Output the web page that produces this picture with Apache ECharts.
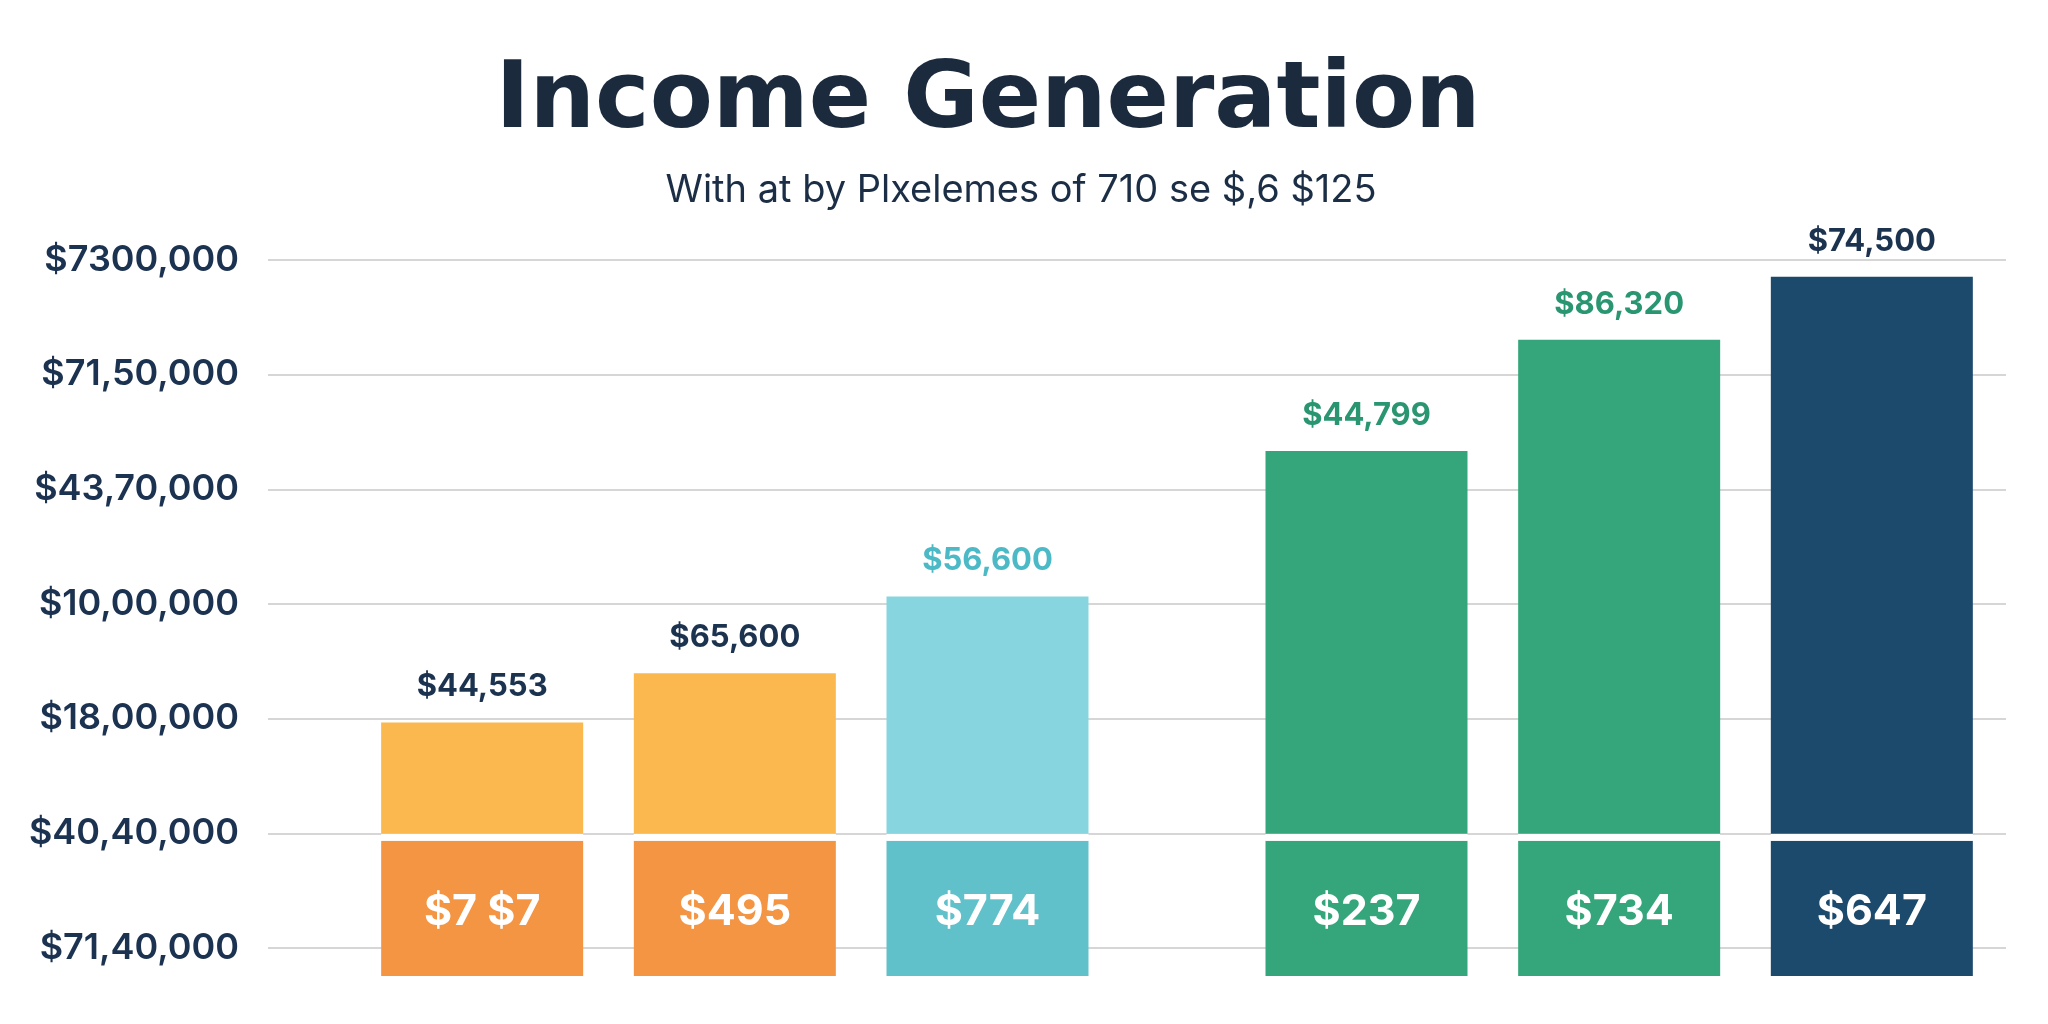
<!DOCTYPE html>
<html><head><meta charset="utf-8">
<script src="https://cdn.jsdelivr.net/npm/echarts@6/dist/echarts.min.js"></script>
<style>html,body{margin:0;padding:0;background:#fff}#c{width:2048px;height:1024px}</style>
</head><body><div id="c"></div>
<script>
// ---- data ----
const titleText = 'Income Generation';
const subtitleText = 'With at by Plxelemes of 710 se $,6 $125';
const tickLabels = ['$71,40,000', '$40,40,000', '$18,00,000', '$10,00,000', '$43,70,000', '$71,50,000', '$7300,000'];
const categories = ['Bar 1', 'Bar 2', 'Bar 3', 'Bar 4', 'Bar 5', 'Bar 6'];
const groups = ['A', 'A', 'A', 'B', 'B', 'B'];
const baseValues = [1.18, 1.18, 1.18, 1.18, 1.18, 1.18];
const topValues = [0.97, 1.40, 2.07, 3.34, 4.31, 4.86];
const topLabels = ['$44,553', '$65,600', '$56,600', '$44,799', '$86,320', '$74,500'];
const baseLabels = ['$7 $7', '$495', '$774', '$237', '$734', '$647'];

// ---- styles ----
const upperColors = ['#FAB84E', '#FAB84E', '#87D5DE', '#35A67C', '#35A67C', '#1C4A6D'];
const lowerColors = ['#F39542', '#F39542', '#61C1CB', '#35A67C', '#35A67C', '#1C4A6D'];
const topLabelColors = ['#1C3350', '#1C3350', '#4CB9C6', '#2A9571', '#2A9571', '#1C3350'];
const FONT = 'Inter';
const GAP = 0.061;

// slot layout: one empty half-slot between bars, an extra one between groups
const slots = [];
const slotOf = [];
categories.forEach((c, i) => {
  if (i > 0) { slots.push(''); if (groups[i] !== groups[i - 1]) slots.push(''); }
  slotOf.push(slots.length);
  slots.push(c);
});
function toSlots(fn) {
  const arr = slots.map(() => '-');
  categories.forEach((c, i) => { arr[slotOf[i]] = fn(i); });
  return arr;
}

const chart = echarts.init(document.getElementById('c'));
chart.setOption({
  backgroundColor: '#ffffff',
  animation: false,
  title: [
    { text: titleText, left: 988, top: 57, textAlign: 'center', padding: 0,
      textStyle: { fontFamily: 'DejaVu Sans', fontSize: 92, fontWeight: 'bold', color: '#1B2A3D' } },
    { text: subtitleText, left: 1021, top: 172, textAlign: 'center', padding: 0,
      textStyle: { fontFamily: FONT, fontSize: 38, fontWeight: 'normal', color: '#1B2E45' } }
  ],
  grid: [
    { left: 268, right: 42, top: 260, bottom: 76 },
    { left: 419, right: 113, top: 231, bottom: 48 }
  ],
  xAxis: [
    { type: 'value', gridIndex: 0, show: false, min: 0, max: 1 },
    { type: 'category', gridIndex: 1, data: slots, show: false }
  ],
  yAxis: [
    { type: 'value', gridIndex: 0, min: 0, max: 6, interval: 1,
      axisLine: { show: false }, axisTick: { show: false },
      splitLine: { show: true, lineStyle: { color: '#D6D6D6', width: 2 } },
      axisLabel: { margin: 29, fontFamily: FONT, fontSize: 36, fontWeight: 600, color: '#1B3250',
        formatter: v => tickLabels[Math.round(v)] } },
    { type: 'value', gridIndex: 1, min: 0, max: 6.5, show: false, splitLine: { show: false } }
  ],
  series: [
    { type: 'bar', name: 'base', stack: 's', xAxisIndex: 1, yAxisIndex: 1, barWidth: 202, clip: false,
      data: toSlots(i => ({ value: baseValues[i], itemStyle: { color: lowerColors[i] },
        label: { show: true, position: 'inside', offset: [0, 4], formatter: baseLabels[i], color: '#ffffff',
          fontFamily: FONT, fontSize: 43, fontWeight: 'bold' } })) },
    { type: 'bar', name: 'gap', stack: 's', xAxisIndex: 1, yAxisIndex: 1, barWidth: 202, silent: true, clip: false,
      itemStyle: { color: '#ffffff' },
      data: toSlots(i => GAP) },
    { type: 'bar', name: 'top', stack: 's', xAxisIndex: 1, yAxisIndex: 1, barWidth: 202, clip: false,
      data: toSlots(i => ({ value: topValues[i], itemStyle: { color: upperColors[i] },
        label: { show: true, position: 'top', distance: 20, formatter: topLabels[i], color: topLabelColors[i],
          fontFamily: FONT, fontSize: 31, fontWeight: 'bold' } })) }
  ]
});
</script>
</body></html>
